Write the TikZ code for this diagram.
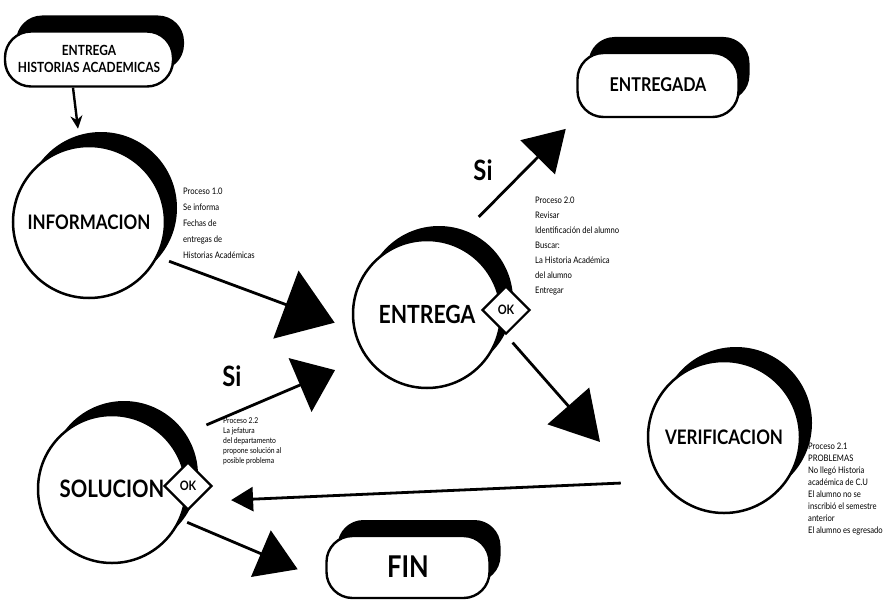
\documentclass[tikz,border=0pt]{standalone}
\usepackage{fontspec}
\setmainfont{Lato}[FakeStretch=0.85]
\usetikzlibrary{arrows.meta,shapes.geometric,shadows}

\tikzset{
  bubble/.style={circle, draw, line width=2.5pt, fill=white, minimum size=#1,
    drop shadow={shadow xshift=12pt, shadow yshift=14pt, fill=black, opacity=1}},
  capsule/.style={rectangle, rounded corners=26pt, draw, line width=2.4pt, fill=white, align=center,
    drop shadow={shadow xshift=11pt, shadow yshift=16pt, fill=black, opacity=1}},
  okmark/.style={diamond, draw, line width=2.2pt, fill=white, minimum size=48pt, inner sep=0pt,
    font=\fontsize{13}{13}\selectfont\bfseries},
  procnote/.style={anchor=north west, align=left, inner sep=0pt},
  flow/.style 2 args={line width=2.8pt, -{Triangle[length=#1pt, width=#2pt]}},
}

\begin{document}
\begin{tikzpicture}[x=1pt, y=-1pt]
  % Page frame (pixel grid of the scan)
  \useasboundingbox (0,0) rectangle (890,599);

  % Start and end capsules
  \node[capsule, minimum width=168pt, minimum height=55pt, font=\fontsize{14}{17}\selectfont\bfseries]
    (hist) at (89,59) {ENTREGA\\HISTORIAS ACADEMICAS};
  \node[capsule, minimum width=161pt, minimum height=64pt, font=\fontsize{19}{19}\selectfont\bfseries]
    (done) at (658,85) {ENTREGADA};
  \node[capsule, minimum width=163pt, minimum height=62pt, font=\fontsize{30}{30}\selectfont\bfseries]
    (fin) at (408,567) {FIN};

  % Process bubbles
  \node[bubble=152pt, font=\fontsize{20}{20}\selectfont\bfseries] (info) at (89,222) {INFORMACION};
  \node[bubble=148pt, font=\fontsize{25}{25}\selectfont\bfseries] (entrega) at (427,314) {ENTREGA};
  \node[bubble=152pt, font=\fontsize{20}{20}\selectfont\bfseries] (verif) at (724,437) {VERIFICACION};
  \node[bubble=148pt, font=\fontsize{24}{24}\selectfont\bfseries] (sol) at (112,489) {SOLUCION};

  % OK decisions
  \node[okmark] (eok) at (506,310) {OK};
  \node[okmark] (sok) at (188,486) {OK};

  % Process notes
  \node[procnote, font=\fontsize{9}{16}\selectfont] (p10) at (183,188)
    {Proceso 1.0\\Se informa\\Fechas de\\entregas de\\Historias Académicas};
  \node[procnote, font=\fontsize{9}{15}\selectfont] (p20) at (535,197)
    {Proceso 2.0\\Revisar\\Identificación del alumno\\Buscar:\\La Historia Académica\\del alumno\\Entregar};
  \node[procnote, font=\fontsize{9}{12}\selectfont] (p21) at (808,443)
    {Proceso 2.1\\PROBLEMAS\\No llegó Historia\\académica de C.U\\El alumno no se\\inscribió el semestre\\anterior\\El alumno es egresado};
  \node[procnote, font=\fontsize{8}{10}\selectfont] (p22) at (223,417)
    {Proceso 2.2\\La jefatura\\del departamento\\propone solución al\\posible problema};

  % Branch labels
  \node[font=\fontsize{28}{28}\selectfont\bfseries] (si1) at (483,170) {Si};
  \node[font=\fontsize{28}{28}\selectfont\bfseries] (si2) at (232,376) {Si};

  % Flow arrows
  \coordinate (vtip) at (600,442);
  \draw[line width=2.4pt, -{Stealth[length=13pt, width=12pt]}]
    ([xshift=-16pt]hist.south) -- ([xshift=-11pt, yshift=16pt]info.north);
  \draw[flow={52}{72}, shorten <=12pt, shorten >=20pt] (info.-27) -- (entrega.192);
  \draw[flow={38}{58}, shorten <=40pt, shorten >=33pt] (sol.40) -- (entrega.215);
  \draw[flow={40}{48}, shorten <=37pt, shorten >=15pt] (entrega.70) -- (done.south west);
  \draw[flow={48}{55}, shorten <=10pt] (eok.south) -- (vtip);
  \draw[flow={22}{24}, shorten <=40pt, shorten >=45pt] (verif.215) -- (sol.-10);
  \draw[flow={40}{50}, shorten <=7pt, shorten >=30pt] (sol.-24) -- ([yshift=-14pt]fin.west);
\end{tikzpicture}
\end{document}
